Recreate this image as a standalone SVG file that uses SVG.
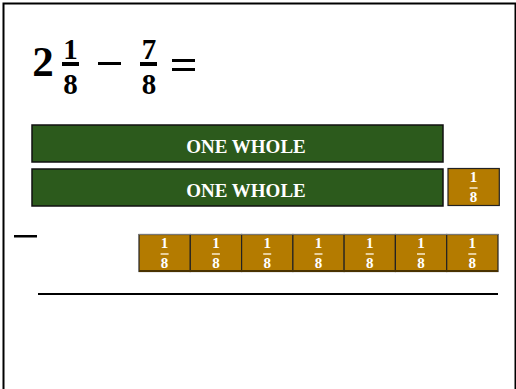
<svg xmlns="http://www.w3.org/2000/svg" width="516" height="389" viewBox="0 0 516 389">
<style>
.f{font-family:"Liberation Serif","DejaVu Serif",serif;font-weight:bold;text-anchor:middle}
.eq{fill:#000;font-size:29px}
.big{fill:#000;font-size:43px}
.whole{fill:#2c5a1c;stroke:#111;stroke-width:1.5}
.wt{fill:#fff;font-size:19px}
.tile{fill:#b47b00;stroke:#222;stroke-width:1.2}
.tt{fill:#fff;font-size:15px}
.tb{fill:#e8cf9a}
</style>
<defs>
<g id="eighth">
<rect class="tile" x="0" y="0" width="51.3" height="37"/>
<text class="f tt" x="25.6" y="13.5">1</text>
<rect class="tb" x="21.6" y="18.5" width="8" height="2"/>
<text class="f tt" x="25.6" y="33.5">8</text>
</g>
</defs>
<rect x="0" y="0" width="516" height="389" fill="#fff"/>
<rect x="3.5" y="3.5" width="512" height="400" fill="none" stroke="#000" stroke-width="2"/>
<g id="equation">
<text class="f big" x="43" y="76">2</text>
<text class="f eq" x="70.5" y="59">1</text>
<rect x="62" y="62" width="17" height="4" fill="#000"/>
<text class="f eq" x="70.5" y="94">8</text>
<rect x="98" y="62" width="23" height="3" fill="#000"/>
<text class="f eq" x="149" y="59">7</text>
<rect x="140" y="62" width="17" height="4" fill="#000"/>
<text class="f eq" x="149" y="94">8</text>
<rect x="172" y="59" width="23" height="3" fill="#000"/>
<rect x="172" y="68" width="23" height="3" fill="#000"/>
</g>
<g id="whole1">
<rect class="whole" x="32" y="125" width="411" height="37"/>
<text class="f wt" x="246" y="153">ONE WHOLE</text>
</g>
<g id="whole2">
<rect class="whole" x="32" y="169" width="411" height="37"/>
<text class="f wt" x="246" y="197">ONE WHOLE</text>
</g>
<g id="extra-eighth">
<use href="#eighth" x="448" y="168.5"/>
</g>
<g id="minus">
<rect x="14" y="235" width="23" height="2.5" fill="#000"/>
</g>
<g id="eighths-row">
<use href="#eighth" x="139" y="234.5"/>
<use href="#eighth" x="190.3" y="234.5"/>
<use href="#eighth" x="241.6" y="234.5"/>
<use href="#eighth" x="292.9" y="234.5"/>
<use href="#eighth" x="344.1" y="234.5"/>
<use href="#eighth" x="395.4" y="234.5"/>
<use href="#eighth" x="446.7" y="234.5"/>
<line x1="139" y1="234.5" x2="498" y2="234.5" stroke="#777" stroke-width="1.2"/>
<line x1="139" y1="271" x2="498" y2="271" stroke="#4a3200" stroke-width="2"/>
</g>
<g id="answer-line">
<line x1="38" y1="294" x2="498" y2="294" stroke="#000" stroke-width="2"/>
</g>
</svg>
